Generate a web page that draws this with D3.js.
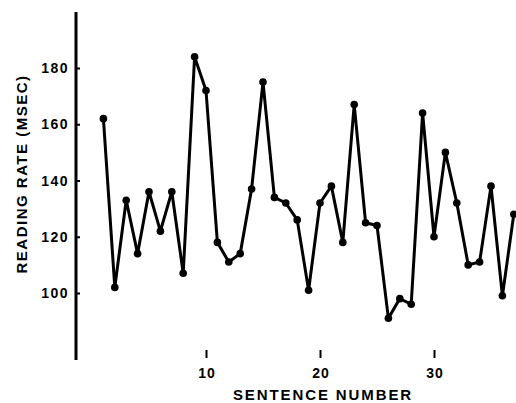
<!DOCTYPE html>
<html>
<head>
<meta charset="utf-8">
<script src="https://cdn.jsdelivr.net/npm/d3@7/dist/d3.min.js"></script>
<style>
  body { margin: 0; background: #fff; }
  text { font-family: "Liberation Sans", Arial, sans-serif; font-weight: bold; fill: #000; }
</style>
</head>
<body>
<div id="chart"></div>
<script>
// sentence numbers and reading rate (msec)
var sentences = d3.range(1, 38);
var rates = [162, 102, 133, 114, 136, 122, 136, 107, 184, 172,
             118, 111, 114, 137, 175, 134, 132, 126, 101, 132,
             138, 118, 167, 125, 124, 91, 98, 96, 164, 120,
             150, 132, 110, 111, 138, 99, 128];
var xTicks = [10, 20, 30];
var yTicks = [100, 120, 140, 160, 180];

var width = 516,
  height = 403

var svg = d3
  .select("#chart")
  .append("svg")
  .attr("width", width)
  .attr("height", height)

var x = d3.scaleLinear().domain([0, 30]).range([92, 434]);
var y = d3.scaleLinear().domain([100, 180]).range([293, 68]);

// y axis line
svg.append("line")
  .attr("x1", 76).attr("x2", 76)
  .attr("y1", 12).attr("y2", 360)
  .attr("stroke", "black")
  .attr("stroke-width", 3);

var yAxis = svg.append("g")
  .attr("transform", "translate(76,0)")
  .call(d3.axisRight(y).tickValues(yTicks).tickSize(4).tickFormat(""));
yAxis.select(".domain").remove();
yAxis.selectAll("line").attr("stroke-width", 2);

svg.selectAll(".ylab")
  .data(yTicks)
  .enter()
  .append("text")
  .attr("class", "ylab")
  .attr("x", 69)
  .attr("y", function (d) { return y(d) + 5; })
  .attr("text-anchor", "end")
  .style("font-size", "14px")
  .style("letter-spacing", "1.5px")
  .text(function (d) { return d; });

// x axis: only the ticks survive, no baseline
var xAxis = svg.append("g")
  .attr("transform", "translate(0,358)")
  .call(d3.axisTop(x).tickValues(xTicks).tickSize(8).tickFormat(""));
xAxis.select(".domain").remove();
xAxis.selectAll("line").attr("stroke-width", 2);

svg.selectAll(".xlab")
  .data(xTicks)
  .enter()
  .append("text")
  .attr("class", "xlab")
  .attr("x", function (d) { return x(d) + 1; })
  .attr("y", 378)
  .attr("text-anchor", "middle")
  .style("font-size", "14px")
  .style("letter-spacing", "1px")
  .text(function (d) { return d; });

svg.append("text")
  .attr("x", 323)
  .attr("y", 400)
  .attr("text-anchor", "middle")
  .style("font-size", "15px")
  .style("letter-spacing", "1.9px")
  .text("SENTENCE NUMBER");

svg.append("text")
  .attr("transform", "translate(27,174) rotate(-90)")
  .attr("text-anchor", "middle")
  .style("font-size", "15px")
  .style("letter-spacing", "1.5px")
  .text("READING RATE (MSEC)");

var pts = sentences.map(function (s, i) { return [s, rates[i]]; });

var line = d3.line()
  .x(function (d) { return x(d[0]); })
  .y(function (d) { return y(d[1]); });

svg.append("path")
  .datum(pts)
  .attr("d", line)
  .attr("fill", "none")
  .attr("stroke", "black")
  .attr("stroke-width", 3)
  .attr("stroke-linejoin", "round");

svg.selectAll(".dot")
  .data(pts)
  .enter()
  .append("circle")
  .attr("class", "dot")
  .attr("cx", function (d) { return x(d[0]); })
  .attr("cy", function (d) { return y(d[1]); })
  .attr("r", 3.8)
  .attr("fill", "black");
</script>
</body>
</html>
